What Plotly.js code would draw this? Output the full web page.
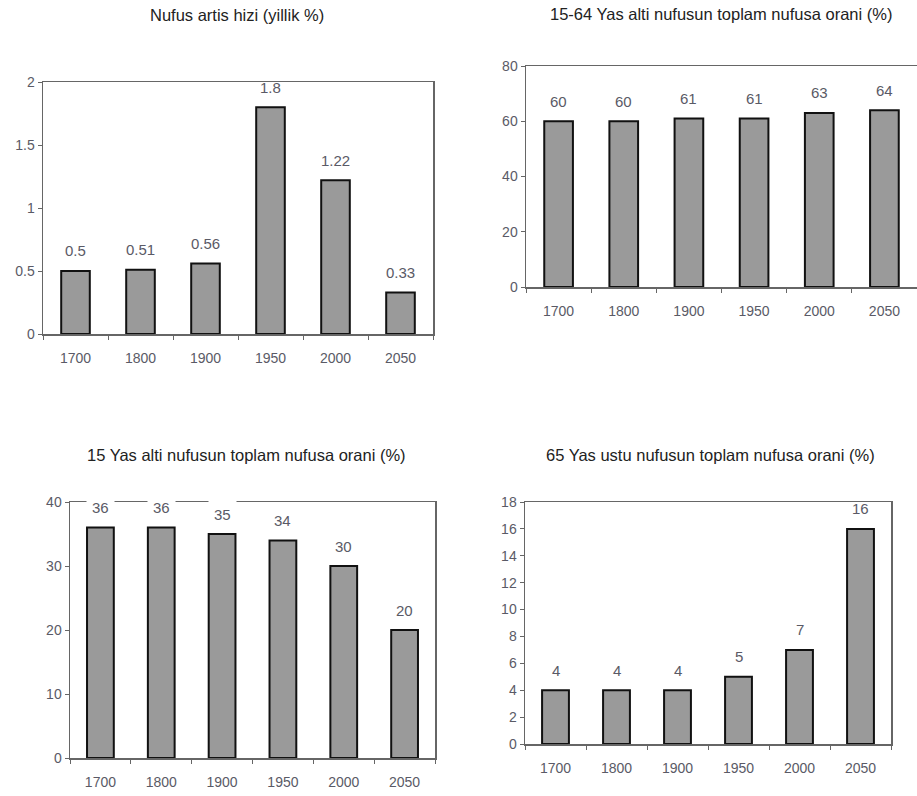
<!DOCTYPE html>
<html>
<head>
<meta charset="utf-8">
<script src="https://cdn.plot.ly/plotly-3.0.1.min.js"></script>
<style>html,body{margin:0;padding:0;background:#fff}#chart{width:917px;height:796px}</style>
</head>
<body>
<div id="chart"></div>
<script>
const years = ["1700", "1800", "1900", "1950", "2000", "2050"];
const growthRate = [0.5, 0.51, 0.56, 1.8, 1.22, 0.33];
const workingAge = [60, 60, 61, 61, 63, 64];
const under15 = [36, 36, 35, 34, 30, 20];
const over65 = [4, 4, 4, 5, 7, 16];
const titles = [
  "Nufus artis hizi (yillik %)",
  "15-64 Yas alti nufusun toplam nufusa orani (%)",
  "15 Yas alti nufusun toplam nufusa orani (%)",
  "65 Yas ustu nufusun toplam nufusa orani (%)"
];

const W = 917, H = 796;
const FONT = "Liberation Sans, Arial, sans-serif";
const panels = [
  {vals: growthRate, x0: 43, x1: 433, yt: 82, yb: 334, range: [0, 2], dtick: 0.5, tx: 237, ty: 15},
  {vals: workingAge, x0: 526, x1: 918, yt: 66, yb: 287, range: [0, 80], dtick: 20, tx: 721, ty: 14},
  {vals: under15, x0: 70, x1: 435, yt: 502, yb: 758, range: [0, 40], dtick: 10, tx: 246, ty: 455, whiteBg: true},
  {vals: over65, x0: 525, x1: 891, yt: 502, yb: 744, range: [0, 18], dtick: 2, tx: 710, ty: 455}
];

const data = [];
const layout = {
  width: W, height: H,
  margin: {l: 0, r: 0, t: 0, b: 0},
  paper_bgcolor: "#fff", plot_bgcolor: "#fff",
  showlegend: false,
  font: {family: FONT, color: "#555", size: 12},
  bargap: 0.56,
  annotations: []
};

panels.forEach((p, i) => {
  const n = i + 1;
  const xa = n === 1 ? "x" : "x" + n;
  const ya = n === 1 ? "y" : "y" + n;
  data.push({
    type: "bar", x: years, y: p.vals, xaxis: xa, yaxis: ya,
    marker: {color: "#9a9a9a", line: {color: "#111", width: 2}},
    hoverinfo: "x+y"
  });
  const xk = n === 1 ? "xaxis" : "xaxis" + n;
  const yk = n === 1 ? "yaxis" : "yaxis" + n;
  layout[xk] = {
    domain: [p.x0 / W, Math.min(p.x1 / W, 1)],
    anchor: ya, type: "category", autorange: false, range: [-0.5, years.length - 0.5],
    showline: true, mirror: true, linecolor: "#666", linewidth: 1.5,
    ticks: "outside", tickson: "boundaries", ticklen: 4, tickcolor: "#666",
    tickfont: {family: FONT, size: 14, color: "#5a5a66"},
    ticklabelstandoff: 11, tickangle: 0,
    showgrid: false, zeroline: false, fixedrange: true
  };
  layout[yk] = {
    domain: [1 - p.yb / H, 1 - p.yt / H],
    anchor: xa, autorange: false, range: p.range, dtick: p.dtick, tick0: 0,
    showline: true, mirror: true, linecolor: "#666", linewidth: 1.5,
    ticks: "outside", ticklen: 4, tickcolor: "#666",
    tickfont: {family: FONT, size: 14, color: "#5a5a66"},
    showgrid: false, zeroline: false, fixedrange: true
  };
  layout.annotations.push({
    xref: "paper", yref: "paper", x: p.tx / W, y: 1 - p.ty / H,
    xanchor: "center", yanchor: "middle", showarrow: false,
    text: titles[i], font: {family: FONT, size: 16.5, color: "#222"}
  });
  years.forEach((yr, k) => {
    const a = {
      xref: xa, yref: ya, x: k, y: p.vals[k],
      xanchor: "center", yanchor: "middle", yshift: 20, showarrow: false,
      text: String(p.vals[k]), font: {family: FONT, size: 15, color: "#5a5a66"}
    };
    if (p.whiteBg) { a.bgcolor = "#fff"; a.borderpad = 5; }
    layout.annotations.push(a);
  });
});

Plotly.newPlot("chart", data, layout, {staticPlot: true});
</script>
</body>
</html>
